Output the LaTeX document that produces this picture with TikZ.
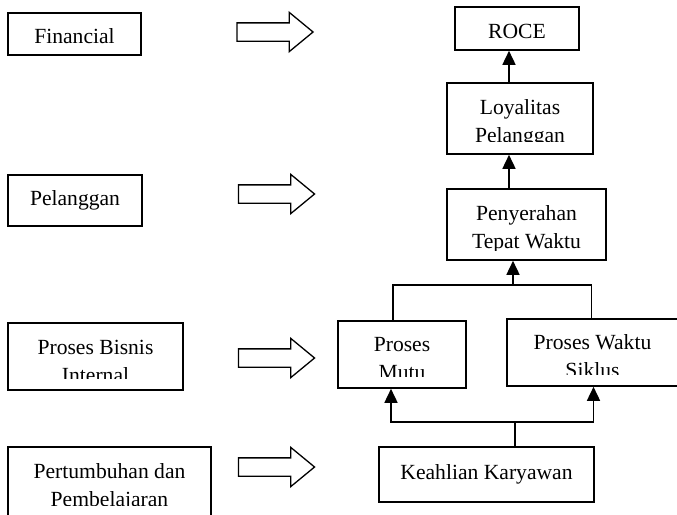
\documentclass[tikz,border=0pt]{standalone}
\usepackage{fontspec}
\setmainfont{Liberation Serif}
\usepackage{tikz}
\usetikzlibrary{shapes.arrows,arrows.meta,calc}
\newcommand{\cutoff}[2]{%
  \fill[white] ([shift={(1.8,-1.8)}]#1.south west) rectangle ([shift={(-1.8,-#2)}]#1.south east);}

\begin{document}
\begin{tikzpicture}[
  x=1pt, y=-1pt,
  font=\fontsize{21.6}{28}\selectfont,
  box/.style={draw, line width=1.6pt, align=center, inner sep=0pt},
  bigarrow/.style={single arrow, draw, line width=1.3pt, minimum height=76pt,
                   inner xsep=0pt, inner ysep=8.5pt,
                   single arrow head extend=10.5pt, single arrow tip angle=79},
  ln/.style={line width=1.6pt},
  ar/.style={-{Triangle[length=14pt,width=13pt]}, line width=1.6pt}
]
\useasboundingbox (0,0) rectangle (677,514);
\clip (0,0) rectangle (677,514);

% perspektif
\node[box, minimum width=133pt, minimum height=42pt, text height=20pt] (fin) at (74.5,34) {Financial};
\node[box, minimum width=134pt, minimum height=51pt] (pel) at (75,200.5) {Pelanggan};
\node[box, minimum width=175pt, minimum height=67pt, text height=53pt] (pbi) at (95.5,356.5) {Proses Bisnis\\Internal};
\node[box, minimum width=203pt, minimum height=70pt, text height=52.6pt] (ptb) at (109.5,482) {Pertumbuhan dan\\Pembelajaran};

\node[bigarrow] (finarr) at (269.5,32) {};
\node[bigarrow] (pelarr) at (271,194) {};
\node[bigarrow] (pbiarr) at (271,358) {};
\node[bigarrow] (ptbarr) at (271,467) {};

% rantai sebab-akibat
\node[box, minimum width=124pt, minimum height=43pt, text height=19.5pt] (roce) at (517,28.5) {ROCE};
\node[box, minimum width=146pt, minimum height=71pt, text height=53.6pt] (loy) at (520,118.5) {Loyalitas\\Pelanggan};
\node[box, minimum width=159pt, minimum height=71pt, text height=51.6pt] (pen) at (526.5,224.5) {Penyerahan\\Tepat Waktu};
\node[box, minimum width=128pt, minimum height=67pt, text height=51pt] (mutu) at (402,354.5) {Proses\\Mutu};
\node[box, minimum width=171pt, minimum height=67pt, text height=51pt] (siklus) at (592.5,352.5) {Proses Waktu\\Siklus};
\node[box, minimum width=215pt, minimum height=55pt] (kea) at (486.5,474.5) {Keahlian Karyawan};

\cutoff{pbi}{12}
\cutoff{ptb}{12}
\cutoff{loy}{13}
\cutoff{pen}{10}
\cutoff{mutu}{12}
\cutoff{siklus}{12}

\coordinate (join) at (513,285);
\coordinate (split) at (515,422);

\draw[ar] ([xshift=-8pt]roce.south |- loy.north) -- ([xshift=-8pt]roce.south);
\draw[ar] ([xshift=-11pt]loy.south |- pen.north) -- ([xshift=-11pt]loy.south);
\draw[ln] ([xshift=-9pt]mutu.north) |- (join) -| ([xshift=-1pt]siklus.north);
\draw[ar] (join) -- (pen.south -| join);
\draw[ln] (kea.north -| split) -- (split);
\draw[ar] (split) -| ([xshift=-11pt]mutu.south);
\draw[ar] (split) -| ([xshift=1pt]siklus.south);
\end{tikzpicture}
\end{document}
